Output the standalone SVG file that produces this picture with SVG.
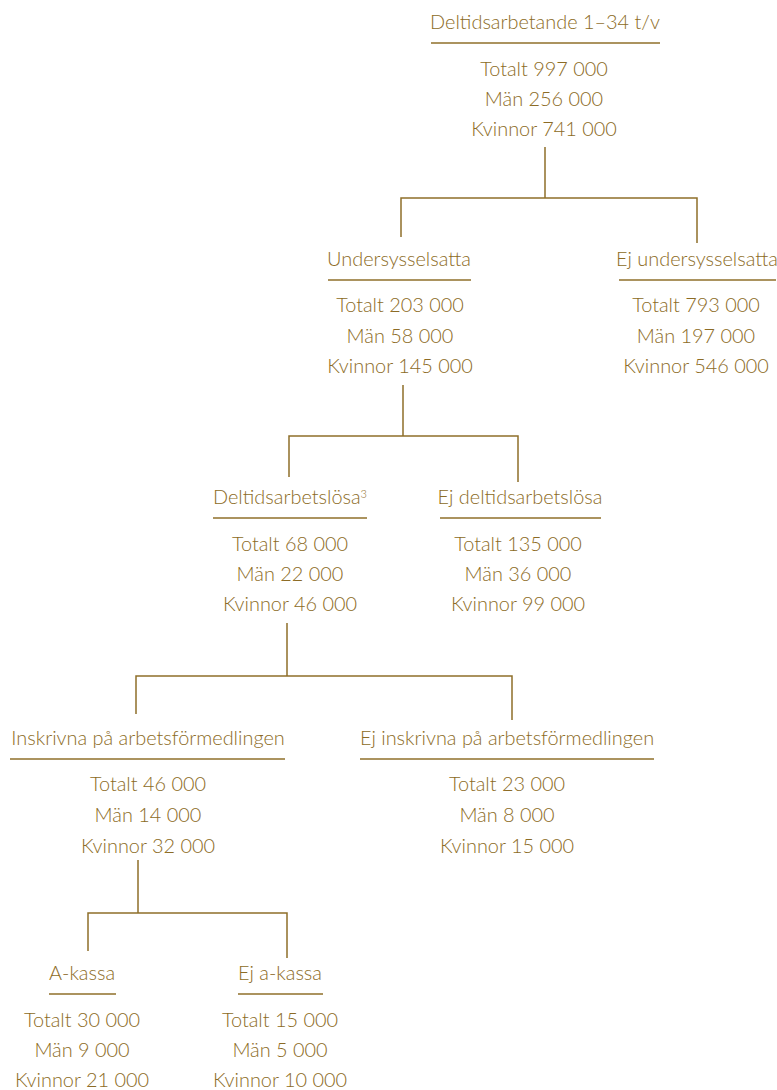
<svg xmlns="http://www.w3.org/2000/svg" width="777" height="1090" viewBox="0 0 777 1090">
<style>
text{font-family:Lato,"Noto Sans","Liberation Sans",sans-serif;font-weight:300;fill:#8c6b25;font-size:19.9px;text-anchor:middle}
.u{stroke:#8f6f2a;stroke-width:1.4;fill:none}
.c{stroke:#8f6f2a;stroke-width:1.5;fill:none}
</style>
<rect width="777" height="1090" fill="#fff"/>
<g id="connectors">
<path class="c" d="M545 147V198M401 237V198H697V243"/>
<path class="c" d="M403 385V436M289 477V436H518V482"/>
<path class="c" d="M287 623V676M136 714V676H512V720"/>
<path class="c" d="M138 860V913M88 951V913H287V958"/>
</g>
<g id="n1">
<text x="545" y="29">Deltidsarbetande 1–34 t/v</text>
<line class="u" x1="431" y1="43" x2="660" y2="43"/>
<text x="544" y="76">Totalt 997 000</text>
<text x="544" y="106">Män 256 000</text>
<text x="544" y="136">Kvinnor 741 000</text>
</g>
<g id="n2">
<text x="399" y="266">Undersysselsatta</text>
<line class="u" x1="328" y1="280" x2="471" y2="280"/>
<text x="400" y="312">Totalt 203 000</text>
<text x="400" y="343">Män 58 000</text>
<text x="400" y="373">Kvinnor 145 000</text>
</g>
<g id="n3">
<text x="697" y="266">Ej undersysselsatta</text>
<line class="u" x1="619" y1="280" x2="776" y2="280"/>
<text x="696" y="312">Totalt 793 000</text>
<text x="696" y="343">Män 197 000</text>
<text x="696" y="373">Kvinnor 546 000</text>
</g>
<g id="n4">
<text x="290" y="504">Deltidsarbetslösa<tspan font-size="11" dy="-6">3</tspan></text>
<line class="u" x1="213" y1="518" x2="367" y2="518"/>
<text x="290" y="551">Totalt 68 000</text>
<text x="290" y="581">Män 22 000</text>
<text x="290" y="611">Kvinnor 46 000</text>
</g>
<g id="n5">
<text x="520" y="504">Ej deltidsarbetslösa</text>
<line class="u" x1="440" y1="518" x2="601" y2="518"/>
<text x="518" y="551">Totalt 135 000</text>
<text x="518" y="581">Män 36 000</text>
<text x="518" y="611">Kvinnor 99 000</text>
</g>
<g id="n6">
<text x="148" y="745">Inskrivna på arbetsförmedlingen</text>
<line class="u" x1="10" y1="759" x2="285" y2="759"/>
<text x="148" y="791">Totalt 46 000</text>
<text x="148" y="822">Män 14 000</text>
<text x="148" y="853">Kvinnor 32 000</text>
</g>
<g id="n7">
<text x="507" y="745">Ej inskrivna på arbetsförmedlingen</text>
<line class="u" x1="360" y1="759" x2="654" y2="759"/>
<text x="507" y="791">Totalt 23 000</text>
<text x="507" y="822">Män 8 000</text>
<text x="507" y="853">Kvinnor 15 000</text>
</g>
<g id="n8">
<text x="82" y="980">A-kassa</text>
<line class="u" x1="49" y1="994" x2="116" y2="994"/>
<text x="82" y="1027">Totalt 30 000</text>
<text x="82" y="1057">Män 9 000</text>
<text x="82" y="1087">Kvinnor 21 000</text>
</g>
<g id="n9">
<text x="280" y="980">Ej a-kassa</text>
<line class="u" x1="238" y1="994" x2="323" y2="994"/>
<text x="280" y="1027">Totalt 15 000</text>
<text x="280" y="1057">Män 5 000</text>
<text x="280" y="1087">Kvinnor 10 000</text>
</g>
</svg>
